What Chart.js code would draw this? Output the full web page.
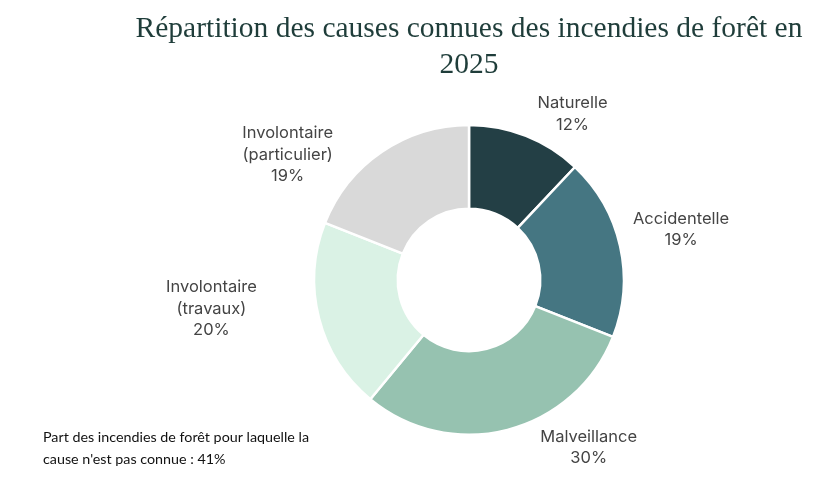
<!DOCTYPE html>
<html lang="fr">
<head>
<meta charset="utf-8">
<title>Causes des incendies de forêt 2025</title>
<script src="https://cdn.jsdelivr.net/npm/chart.js@4"></script>
<style>
    html, body { margin: 0; padding: 0; background: #fff; }
    #wrap { position: relative; width: 814px; height: 493px; }
</style>
</head>
<body>
<div id="wrap"><canvas id="causesChart" width="814" height="493"></canvas></div>
<script>
const causeLabels = [
    ["Naturelle"],
    ["Accidentelle"],
    ["Malveillance"],
    ["Involontaire", "(travaux)"],
    ["Involontaire", "(particulier)"],
];
const causeShares = [12, 19, 30, 20, 19];
const titleLines = ["Répartition des causes connues des incendies de forêt en", "2025"];
const footnoteLines = [
    "Part des incendies de forêt pour laquelle la",
    "cause n'est pas connue : 41%",
];

const sliceColors = ["#233f45", "#457682", "#96c2b0", "#daf2e5", "#d9d9d9"];

// petits decalages des etiquettes (comme le placement "meilleur ajustement" d'Excel)
const labelNudge = [
    [30, 20],
    [17, -7],
    [70, -26],
    [-64, -21],
    [-69, 40],
];

const outsideLabels = {
    id: "outsideLabels",
    afterDatasetsDraw(chart) {
        const ctx = chart.ctx;
        const meta = chart.getDatasetMeta(0);
        ctx.save();
        ctx.font = "16.5px Inter, 'Noto Sans', sans-serif";
        ctx.fillStyle = "#444444";
        ctx.textAlign = "center";
        ctx.textBaseline = "middle";
        meta.data.forEach((arc, i) => {
            const p = arc.getProps(["x", "y", "startAngle", "endAngle", "outerRadius"], true);
            const mid = (p.startAngle + p.endAngle) / 2;
            const r = p.outerRadius + 45;
            const cx = p.x + Math.cos(mid) * r + labelNudge[i][0];
            const cy = p.y + Math.sin(mid) * r + labelNudge[i][1];
            const lines = causeLabels[i].concat([causeShares[i] + "%"]);
            const lh = 21.5;
            const top = cy - ((lines.length - 1) * lh) / 2;
            lines.forEach((t, k) => ctx.fillText(t, cx, top + k * lh));
        });
        ctx.restore();
    },
};

const footnote = {
    id: "footnote",
    afterDraw(chart) {
        const ctx = chart.ctx;
        ctx.save();
        ctx.font = "14.3px Lato, 'Open Sans', sans-serif";
        ctx.fillStyle = "#111111";
        ctx.textAlign = "left";
        ctx.textBaseline = "middle";
        footnoteLines.forEach((t, k) => ctx.fillText(t, 43, 437 + k * 22));
        ctx.restore();
    },
};

new Chart(document.getElementById("causesChart"), {
    type: "doughnut",
    data: {
        labels: causeLabels.map((l) => l.join(" ")),
        datasets: [
            {
                data: causeShares,
                backgroundColor: sliceColors,
                borderColor: "#ffffff",
                borderWidth: 2.5,
                hoverOffset: 0,
            },
        ],
    },
    options: {
        responsive: false,
        animation: false,
        cutout: "46%",
        layout: { padding: { left: 124, right: 0, top: 0, bottom: 57 } },
        plugins: {
            legend: { display: false },
            tooltip: { enabled: false },
            title: {
                display: true,
                text: titleLines,
                color: "#1f3d3a",
                font: { family: "'Liberation Serif', 'DejaVu Serif', serif", size: 29.5, weight: "normal", lineHeight: 1.2 },
                padding: { top: 12, bottom: 41 },
            },
        },
    },
    plugins: [outsideLabels, footnote],
});
</script>
</body>
</html>
